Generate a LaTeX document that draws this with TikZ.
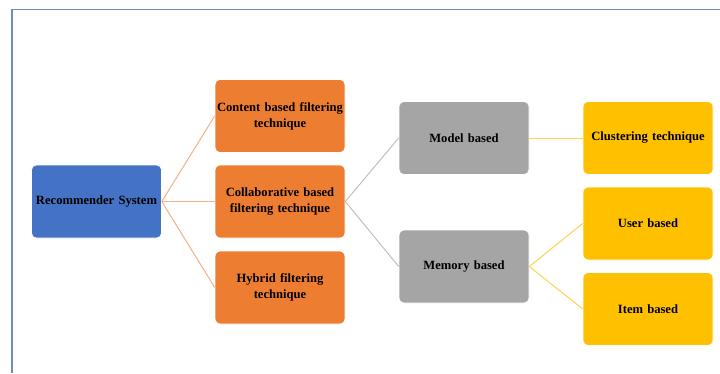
\documentclass[tikz,border=0pt]{standalone}
\usepackage{fontspec}
\setmainfont{Liberation Serif}
\definecolor{cblue}{HTML}{4472C4}
\definecolor{corange}{HTML}{ED7D31}
\definecolor{cgray}{HTML}{A5A5A5}
\definecolor{cgold}{HTML}{FFC000}
\definecolor{lorange}{HTML}{F4B183}
\definecolor{lgray}{HTML}{C0C0C0}
\definecolor{lgold}{HTML}{FFD24D}
\definecolor{frame}{HTML}{6F8CC0}
\begin{document}
\begin{tikzpicture}[x=1pt,y=-1pt,
  box/.style={rounded corners=5pt, minimum width=130pt, minimum height=73pt, inner sep=0pt,
    align=center, text width=130pt, font=\fontsize{12.6}{16}\selectfont\bfseries, draw=white, line width=0.6pt},
  bluebox/.style={box, fill=cblue},
  orangebox/.style={box, fill=corange},
  graybox/.style={box, fill=cgray},
  goldbox/.style={box, fill=cgold},
  link/.style={line width=1pt}]
\useasboundingbox (0,0) rectangle (720,373);
\fill[white] (0,0) rectangle (720,373);
\draw[frame, line width=1.2pt] (12,373) -- (12,9.5) -- (720,9.5);
\node[bluebox] (rs) at (96.5,201.5) {Recommender System};
\node[orangebox] (cb) at (280,116) {Content based filtering\\technique};
\node[orangebox] (cf) at (280,201.5) {Collaborative based\\filtering technique};
\node[orangebox] (hf) at (280,287.5) {Hybrid filtering\\technique};
\node[graybox] (mo) at (464,138) {Model based};
\node[graybox] (me) at (464,266.5) {Memory based};
\node[goldbox] (cl) at (648,138) {Clustering technique};
\node[goldbox] (ub) at (648,223.5) {User based};
\node[goldbox] (ib) at (648,309) {Item based};
\draw[link, lorange] (rs.east) -- (cb.west);
\draw[link, lorange] (rs.east) -- (cf.west);
\draw[link, lorange] (rs.east) -- (hf.west);
\draw[link, lgray] (cf.east) -- (mo.west);
\draw[link, lgray] (cf.east) -- (me.west);
\draw[link, lgold] (mo.east) -- (cl.west);
\draw[link, lgold] (me.east) -- (ub.west);
\draw[link, lgold] (me.east) -- (ib.west);
\end{tikzpicture}
\end{document}
